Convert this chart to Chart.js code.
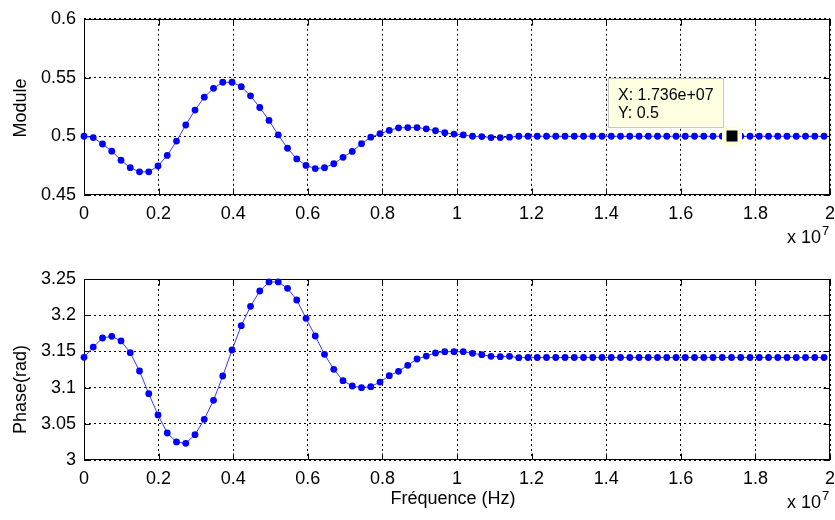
<!DOCTYPE html>
<html>
<head>
<meta charset="utf-8">
<script src="https://cdn.jsdelivr.net/npm/chart.js@4.4.1/dist/chart.umd.min.js"></script>
<style>
  html, body { margin: 0; padding: 0; background: #fff; }
  #wrap { position: relative; width: 835px; height: 520px; overflow: hidden; }
  #c1 { position: absolute; left: 0; top: 0; }
  #c2 { position: absolute; left: 0; top: 260px; }
</style>
</head>
<body>
<div id="wrap">
  <canvas id="c1" width="835" height="255"></canvas>
  <canvas id="c2" width="835" height="260"></canvas>
</div>
<script>
// Frequency samples (in units of 1e7 Hz)
const freq = [
  0, 0.0248, 0.0496, 0.0744, 0.0992, 0.124, 0.1488, 0.1736, 0.1984, 0.2232,
  0.248, 0.2728, 0.2976, 0.3224, 0.3472, 0.372, 0.3968, 0.4216, 0.4464, 0.4712,
  0.496, 0.5208, 0.5456, 0.5704, 0.5952, 0.62, 0.6448, 0.6696, 0.6944, 0.7192,
  0.744, 0.7688, 0.7936, 0.8184, 0.8432, 0.868, 0.8928, 0.9176, 0.9424, 0.9672,
  0.992, 1.0168, 1.0416, 1.0664, 1.0912, 1.116, 1.1408, 1.1656, 1.1904, 1.2152,
  1.24, 1.2648, 1.2896, 1.3144, 1.3392, 1.364, 1.3888, 1.4136, 1.4384, 1.4632,
  1.488, 1.5128, 1.5376, 1.5624, 1.5872, 1.612, 1.6368, 1.6616, 1.6864, 1.7112,
  1.736, 1.7608, 1.7856, 1.8104, 1.8352, 1.86, 1.8848, 1.9096, 1.9344, 1.9592,
  1.984
];

// Module (magnitude)
const moduleVals = [
  0.5, 0.4989, 0.4934, 0.4873, 0.4796, 0.4733, 0.4697, 0.4697, 0.4747, 0.4837,
  0.4959, 0.5096, 0.5223, 0.5333, 0.5408, 0.546, 0.546, 0.5422, 0.5344, 0.5245,
  0.5135, 0.5011, 0.4898, 0.4807, 0.4752, 0.4725, 0.4733, 0.4766, 0.4821, 0.4871,
  0.4937, 0.4992, 0.5022, 0.505, 0.5072, 0.5074, 0.5074, 0.5063, 0.5047, 0.503,
  0.5019, 0.5011, 0.5, 0.4997, 0.4989, 0.4989, 0.4992, 0.5, 0.5, 0.5,
  0.5, 0.5, 0.5, 0.5, 0.5, 0.5, 0.5, 0.5, 0.5, 0.5,
  0.5, 0.5, 0.5, 0.5, 0.5, 0.5, 0.5, 0.5, 0.5, 0.5,
  0.5, 0.5, 0.5, 0.5, 0.5, 0.5, 0.5, 0.5, 0.5, 0.5,
  0.5
];

// Phase (rad)
const phaseVals = [
  3.1418, 3.156, 3.1685, 3.1708, 3.1644, 3.1482, 3.1229, 3.0916, 3.0622, 3.0373,
  3.0249, 3.023, 3.035, 3.0562, 3.0824, 3.116, 3.1519, 3.1855, 3.2122, 3.2334,
  3.2459, 3.2459, 3.2371, 3.221, 3.1957, 3.1713, 3.1459, 3.1252, 3.1096, 3.1022,
  3.0999, 3.1013, 3.1077, 3.1165, 3.1225, 3.1308, 3.1395, 3.1436, 3.1478, 3.1496,
  3.1496, 3.1496, 3.1473, 3.1455, 3.1432, 3.1427, 3.1432, 3.1413, 3.1416, 3.1416,
  3.1416, 3.1416, 3.1416, 3.1416, 3.1416, 3.1416, 3.1416, 3.1416, 3.1416, 3.1416,
  3.1416, 3.1416, 3.1416, 3.1416, 3.1416, 3.1416, 3.1416, 3.1416, 3.1416, 3.1416,
  3.1416, 3.1416, 3.1416, 3.1416, 3.1416, 3.1416, 3.1416, 3.1416, 3.1416, 3.1416,
  3.1416
];

// Tick values and labels
const xTicks = [0, 0.2, 0.4, 0.6, 0.8, 1, 1.2, 1.4, 1.6, 1.8, 2];
const xTickLabels = ['0', '0.2', '0.4', '0.6', '0.8', '1', '1.2', '1.4', '1.6', '1.8', '2'];
const yTicksModule = [0.45, 0.5, 0.55, 0.6];
const yTickLabelsModule = ['0.45', '0.5', '0.55', '0.6'];
const yTicksPhase = [3, 3.05, 3.1, 3.15, 3.2, 3.25];
const yTickLabelsPhase = ['3', '3.05', '3.1', '3.15', '3.2', '3.25'];

const yTitleModule = 'Module';
const yTitlePhase = 'Phase(rad)';
const xTitle = 'Fréquence (Hz)';
const xExponent = '7';
const tipIndex = 70;

const FONT = '"Liberation Sans", Arial, Helvetica, sans-serif';

// Frame + inner tick marks (MATLAB style box)
const framePlugin = {
  id: 'frame',
  beforeDatasetsDraw(chart) {
    const { ctx, chartArea: a, scales: { x, y } } = chart;
    ctx.save();
    ctx.strokeStyle = '#000';
    ctx.lineWidth = 1;
    ctx.setLineDash([]);
    const L = Math.round(a.left) + 0.5, R = Math.round(a.right) - 0.5;
    const T = Math.round(a.top) + 0.5, B = Math.round(a.bottom) - 0.5;
    ctx.strokeRect(L, T, R - L, B - T);
    ctx.beginPath();
    const tl = 6;
    x.ticks.forEach(t => {
      const px = Math.round(x.getPixelForValue(t.value)) + 0.5;
      ctx.moveTo(px, B); ctx.lineTo(px, B - tl);
      ctx.moveTo(px, T); ctx.lineTo(px, T + tl);
    });
    y.ticks.forEach(t => {
      const py = Math.round(y.getPixelForValue(t.value)) + 0.5;
      ctx.moveTo(L, py); ctx.lineTo(L + tl, py);
      ctx.moveTo(R, py); ctx.lineTo(R - tl, py);
    });
    ctx.stroke();
    ctx.restore();
  }
};

// Titles and "x 10^7"
const textPlugin = {
  id: 'texts',
  afterDraw(chart, args, opts) {
    const { ctx, chartArea: a } = chart;
    ctx.save();
    ctx.fillStyle = '#000';
    // y title
    ctx.font = '18px ' + FONT;
    ctx.textAlign = 'center';
    ctx.textBaseline = 'middle';
    ctx.save();
    ctx.translate(opts.yTitleX, (a.top + a.bottom) / 2 + opts.yTitleShift);
    ctx.rotate(-Math.PI / 2);
    ctx.fillText(opts.yTitle, 0, 0);
    ctx.restore();
    // x title
    if (opts.xTitle) {
      ctx.textBaseline = 'alphabetic';
      ctx.fillText(opts.xTitle, opts.xTitleX, a.bottom + 44);
    }
    // exponent
    ctx.textAlign = 'left';
    ctx.textBaseline = 'alphabetic';
    ctx.font = '18px ' + FONT;
    const base = a.bottom + 48;
    ctx.fillText('x 10', 787, base);
    const w = ctx.measureText('x 10').width;
    ctx.font = '13px ' + FONT;
    ctx.fillText(xExponent, 787 + w + 1, base - 8);
    ctx.restore();
  }
};

// MATLAB-like data tip
const tipPlugin = {
  id: 'datatip',
  afterDraw(chart) {
    const { ctx } = chart;
    const pt = chart.getDatasetMeta(0).data[tipIndex];
    const mx = Math.round(pt.x), my = Math.round(pt.y);
    ctx.save();
    ctx.fillStyle = '#ffffe1';
    ctx.fillRect(mx - 10, my - 10, 20, 20);
    ctx.fillStyle = '#000';
    ctx.fillRect(mx - 5.5, my - 5.5, 11, 11);
    const bw = 116, bh = 50;
    const bx = mx - 8 - bw, by = my - 8 - bh;
    ctx.fillStyle = '#ffffe1';
    ctx.fillRect(bx, by, bw, bh);
    ctx.strokeStyle = '#c8c8c8';
    ctx.lineWidth = 1;
    ctx.strokeRect(bx + 0.5, by + 0.5, bw - 1, bh - 1);
    ctx.fillStyle = '#000';
    ctx.font = '16px ' + FONT;
    ctx.textAlign = 'left';
    ctx.textBaseline = 'alphabetic';
    const xv = freq[tipIndex] * 1e7;
    const exp = Math.floor(Math.log10(xv));
    const mant = (xv / Math.pow(10, exp)).toFixed(3);
    const xs = 'X: ' + mant + 'e+' + String(exp).padStart(2, '0');
    const ys = 'Y: ' + moduleVals[tipIndex];
    ctx.fillText(xs, bx + 10, by + 22);
    ctx.fillText(ys, bx + 10, by + 40);
    ctx.restore();
  }
};

function makeChart(id, values, yTicks, yLabels, yMin, yMax, padTop, texts, extraPlugins) {
  const data = freq.map((f, i) => ({ x: f, y: values[i] }));
  return new Chart(document.getElementById(id), {
    type: 'line',
    data: {
      datasets: [{
        data,
        borderColor: '#3a3aff',
        borderWidth: 1,
        backgroundColor: '#0000ff',
        pointBackgroundColor: '#0000ff',
        pointBorderColor: '#0000ff',
        pointBorderWidth: 0,
        pointRadius: 3.4,
        tension: 0,
        clip: false
      }]
    },
    options: {
      responsive: false,
      devicePixelRatio: 1,
      animation: false,
      layout: { padding: { left: 0, right: 0, top: padTop, bottom: 0 } },
      plugins: {
        legend: { display: false },
        tooltip: { enabled: false },
        texts
      },
      scales: {
        x: {
          type: 'linear',
          min: 0, max: 2,
          afterBuildTicks: s => { s.ticks = xTicks.map(v => ({ value: v })); },
          afterFit: s => { s.height = 60; s.paddingRight = 5; },
          ticks: {
            color: '#000',
            font: { family: FONT, size: 18 },
            padding: 8,
            maxRotation: 0,
            callback: (v, i) => xTickLabels[i]
          },
          grid: { color: '#000', lineWidth: 1, drawTicks: false },
          border: { display: false, dash: [2, 3] }
        },
        y: {
          type: 'linear',
          min: yMin, max: yMax,
          afterBuildTicks: s => { s.ticks = yTicks.map(v => ({ value: v })); },
          afterFit: s => { s.width = 84; },
          ticks: {
            color: '#000',
            font: { family: FONT, size: 18 },
            padding: 8,
            callback: (v, i) => yLabels[i]
          },
          grid: { color: '#000', lineWidth: 1, drawTicks: false },
          border: { display: false, dash: [2, 3] }
        }
      }
    },
    plugins: [framePlugin, textPlugin].concat(extraPlugins)
  });
}

makeChart('c1', moduleVals, yTicksModule, yTickLabelsModule, 0.45, 0.6, 16,
  { yTitle: yTitleModule, yTitleX: 21, yTitleShift: 1 }, [tipPlugin]);
makeChart('c2', phaseVals, yTicksPhase, yTickLabelsPhase, 3, 3.25, 19,
  { yTitle: yTitlePhase, yTitleX: 21, yTitleShift: 20, xTitle: xTitle, xTitleX: 453 }, []);
</script>
</body>
</html>
